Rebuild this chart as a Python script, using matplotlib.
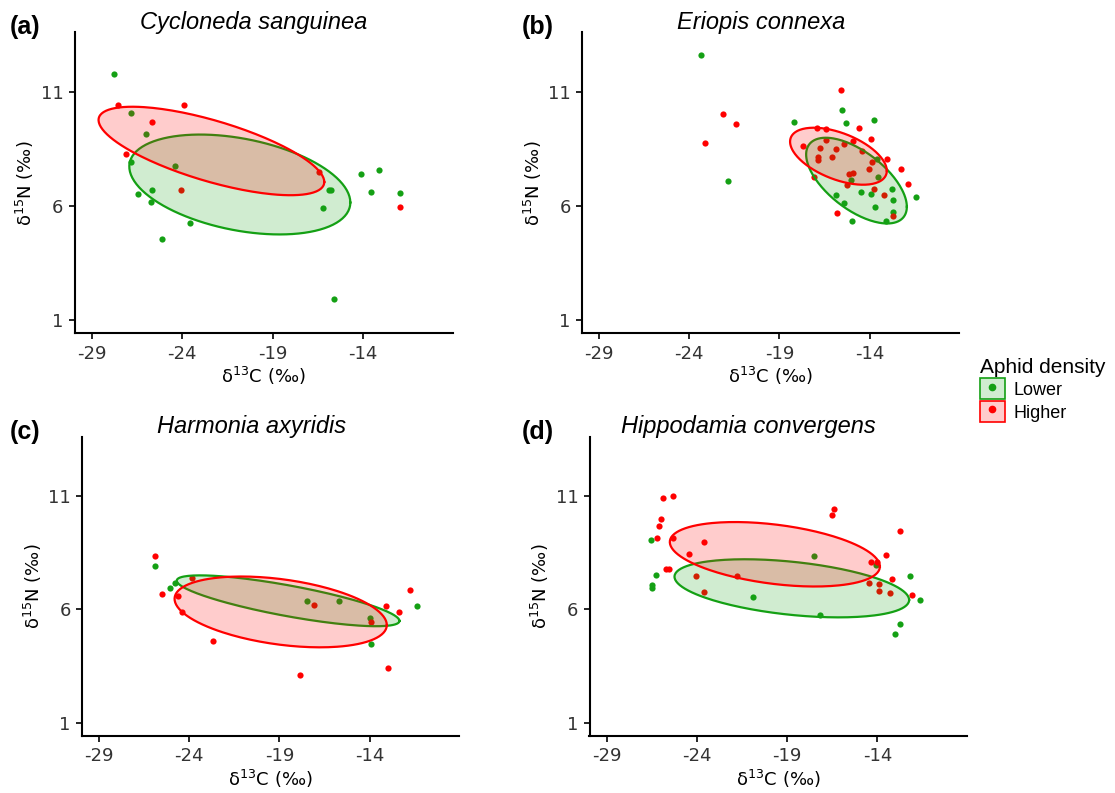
import matplotlib
matplotlib.use('Agg')
import matplotlib.pyplot as plt
from matplotlib.patches import Patch
from matplotlib.lines import Line2D
from matplotlib.legend_handler import HandlerTuple
import numpy as np

plt.rcParams['font.family'] = ['DejaVu Sans']
plt.rcParams['mathtext.fontset'] = 'dejavusans'

GREEN = '#14a014'
RED = '#ff0000'
GREEN_FILL = '#d0ecd0'
RED_FILL = '#ffcccc'

species = ['Cycloneda sanguinea', 'Eriopis connexa', 'Harmonia axyridis', 'Hippodamia convergens']
tags = ['(a)', '(b)', '(c)', '(d)']
xticks = [-29, -24, -19, -14]
yticks = [1, 6, 11]

# (a) Cycloneda sanguinea
a_low_x = [-27.78, -26.82, -25.99, -26.82, -24.39, -26.44, -25.66, -25.73, -25.13, -23.56,
           -15.90, -15.75, -16.20, -15.59, -14.11, -13.10, -13.54, -11.97]
a_low_y = [11.79, 10.05, 9.16, 7.91, 7.72, 6.52, 6.70, 6.17, 4.53, 5.23,
           6.70, 6.70, 5.88, 1.92, 7.41, 7.57, 6.61, 6.55]
a_high_x = [-27.52, -23.91, -25.66, -27.12, -24.07, -16.44, -11.97]
a_high_y = [10.40, 10.43, 9.68, 8.25, 6.67, 7.46, 5.93]

# (b) Eriopis connexa
b_low_x = [-23.33, -21.87, -18.21, -15.56, -15.30, -13.75, -13.62, -13.55, -15.04, -15.84,
           -15.43, -14.97, -14.47, -13.90, -13.70, -12.75, -12.73, -12.73, -13.07, -11.44]
b_low_y = [12.63, 7.09, 9.65, 10.18, 9.62, 9.76, 8.04, 7.24, 7.11, 6.48,
           6.14, 5.35, 6.59, 6.52, 5.95, 6.75, 6.27, 5.73, 5.35, 6.37]
b_high_x = [-22.14, -21.38, -23.12, -15.58, -16.93, -16.41, -14.60, -13.92, -17.72, -16.43,
            -16.76, -15.84, -15.41, -14.90, -14.42, -16.89, -16.84, -16.08, -13.86, -14.01,
            -13.05, -12.27, -11.87, -15.16, -14.95, -15.28, -17.11, -13.77, -13.18, -15.80, -12.68]
b_high_y = [10.00, 9.58, 8.76, 11.07, 9.42, 9.36, 9.42, 8.92, 8.64, 8.89,
            8.53, 8.48, 8.72, 8.82, 8.42, 8.12, 8.00, 8.13, 7.90, 7.59,
            8.07, 7.63, 6.97, 7.38, 7.44, 6.92, 7.24, 6.72, 6.46, 5.70, 5.55]

# (c) Harmonia axyridis
c_low_x = [-25.89, -25.04, -24.80, -17.45, -15.71, -13.99, -13.90, -11.37]
c_low_y = [7.92, 6.95, 7.15, 6.36, 6.37, 5.63, 4.45, 6.12]
c_high_x = [-25.91, -25.51, -24.60, -24.40, -23.82, -22.66, -17.84, -17.08, -13.95, -13.07,
            -12.35, -11.75, -12.96]
c_high_y = [8.36, 6.68, 6.59, 5.88, 7.36, 4.58, 3.10, 6.20, 5.43, 6.14,
            5.88, 6.86, 3.39]

# (d) Hippodamia convergens
d_low_x = [-26.57, -26.28, -26.50, -26.48, -17.52, -20.89, -17.19, -14.07, -12.17, -11.65,
           -12.72, -13.00]
d_low_y = [9.03, 7.51, 7.08, 6.95, 8.33, 6.52, 5.73, 7.95, 7.48, 6.42,
           5.36, 4.89]
d_high_x = [-25.89, -25.35, -26.00, -26.09, -26.20, -25.30, -23.59, -24.44, -25.70, -25.54,
            -24.06, -23.61, -21.78, -16.52, -16.39, -14.33, -14.04, -13.54, -12.74, -14.46,
            -13.93, -13.93, -13.30, -13.17, -12.06]
d_high_y = [10.90, 10.99, 9.97, 9.65, 9.15, 9.14, 8.97, 8.44, 7.75, 7.75,
            7.48, 6.74, 7.48, 10.16, 10.40, 8.06, 8.06, 8.39, 9.44, 7.15,
            7.09, 6.80, 6.71, 7.33, 6.61]

# ellipses: centre x, centre y, half width x, half height y, correlation
a_ell_low = [-20.81, 6.93, 6.11, 2.19, -0.36]
a_ell_high = [-22.38, 8.40, 6.24, 1.94, -0.70]
b_ell_low = [-14.73, 7.10, 2.79, 1.88, -0.61]
b_ell_high = [-15.73, 8.17, 2.68, 1.25, -0.51]
c_ell_low = [-18.52, 6.37, 6.17, 1.12, -0.79]
c_ell_high = [-18.93, 5.88, 5.88, 1.56, -0.37]
d_ell_low = [-18.74, 6.92, 6.50, 1.28, -0.40]
d_ell_high = [-19.68, 8.42, 5.82, 1.42, -0.38]

panels = [
    (a_low_x, a_low_y, a_high_x, a_high_y, a_ell_low, a_ell_high),
    (b_low_x, b_low_y, b_high_x, b_high_y, b_ell_low, b_ell_high),
    (c_low_x, c_low_y, c_high_x, c_high_y, c_ell_low, c_ell_high),
    (d_low_x, d_low_y, d_high_x, d_high_y, d_ell_low, d_ell_high),
]


def ellipse(p):
    cx, cy, sx, sy, r = p
    t = np.linspace(0, 2 * np.pi, 200)
    return cx + sx * np.cos(t), cy + sy * (r * np.cos(t) + np.sqrt(1 - r ** 2) * np.sin(t))


W, H = 1115, 793
fig = plt.figure(figsize=(W / 100, H / 100), dpi=100)

# axes boxes in pixels: left, right, top, bottom
boxes = [(74.5, 452.5, 32.4, 333.4), (581.8, 959, 32.4, 333.4),
         (81.8, 459, 436.7, 736.3), (589.5, 966.7, 436.7, 736.3)]
title_x = [254, 761, 252, 748]
title_y = [22, 22, 426, 426]
tag_x = [10, 522, 10, 522]
tag_y = [27, 27, 432, 432]

for i, (lx, ly, hx, hy, el, eh) in enumerate(panels):
    l, r, t, b = boxes[i]
    ax = fig.add_axes([l / W, 1 - b / H, (r - l) / W, (b - t) / H])
    ax.scatter(lx, ly, s=20, color=GREEN, linewidths=0, zorder=2)
    ax.scatter(hx, hy, s=20, color=RED, linewidths=0, zorder=2)
    for p, col in [(el, GREEN), (eh, RED)]:
        ex, ey = ellipse(p)
        ax.fill(ex, ey, facecolor=col, alpha=0.2, edgecolor='none', zorder=3)
        ax.plot(ex, ey, color=col, lw=1.6, zorder=3)
    ax.set_xlim(-29.95, -9.05)
    ax.set_ylim(0.4, 13.6)
    ax.set_xticks(xticks)
    ax.set_yticks(yticks)
    ax.set_xticklabels([str(v) for v in xticks])
    ax.tick_params(labelsize=13, labelcolor='#333333', length=4, width=1.2, pad=4)
    for s in ['top', 'right']:
        ax.spines[s].set_visible(False)
    for s in ['left', 'bottom']:
        ax.spines[s].set_linewidth(1.5)
    ax.set_xlabel(r'δ$^{13}$C (‰)', fontsize=13, labelpad=2)
    ax.set_ylabel(r'δ$^{15}$N (‰)', fontsize=13, labelpad=3)
    fig.text(title_x[i] / W, 1 - title_y[i] / H, species[i], fontsize=17, style='italic',
             family='Liberation Sans', ha='center', va='center')
    fig.text(tag_x[i] / W, 1 - tag_y[i] / H, tags[i], fontsize=18, fontweight='bold',
             family='Liberation Sans', ha='left', va='center')

handles = [
    (Patch(facecolor=GREEN_FILL, edgecolor=GREEN, lw=1.2),
     Line2D([], [], marker='o', color=GREEN, linestyle='None', markersize=4.5)),
    (Patch(facecolor=RED_FILL, edgecolor=RED, lw=1.2),
     Line2D([], [], marker='o', color=RED, linestyle='None', markersize=4.5)),
]
leg = fig.legend(handles, ['Lower', 'Higher'], title='Aphid density',
                 handler_map={tuple: HandlerTuple(ndivide=1, pad=0)},
                 loc='upper left', bbox_to_anchor=(976 / W, 1 - 354 / H),
                 frameon=False, prop={'family': 'Liberation Sans', 'size': 13},
                 handlelength=1.4, handleheight=1.4, handletextpad=0.5,
                 labelspacing=0.1, borderaxespad=0, borderpad=0.2)
leg.get_title().set_fontfamily('Liberation Sans')
leg.get_title().set_fontsize(15)
leg._legend_box.align = 'left'

fig.savefig('out.png', dpi=100)
